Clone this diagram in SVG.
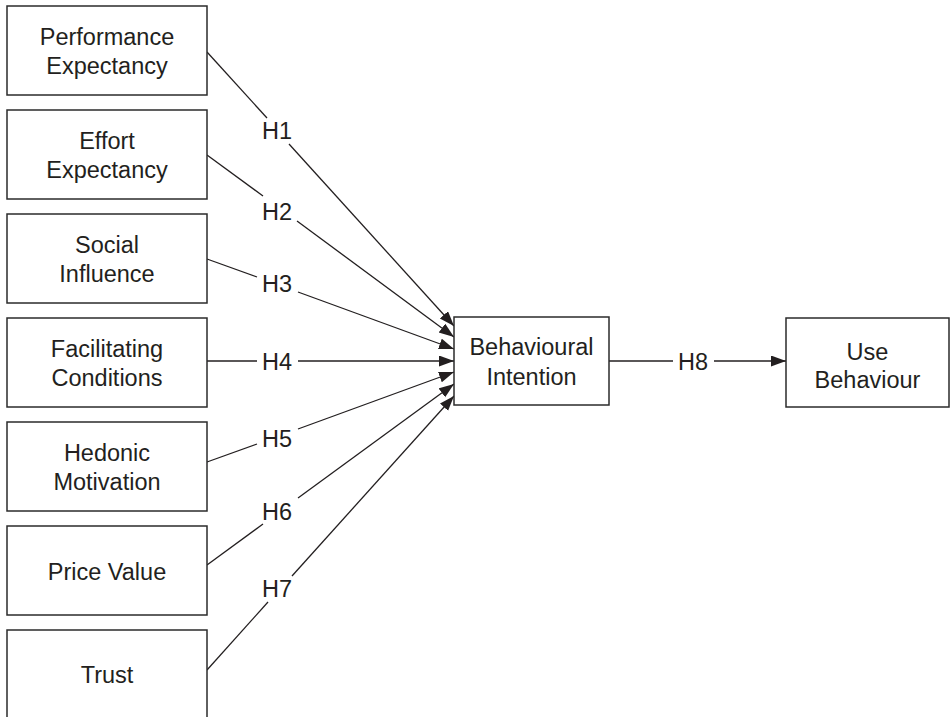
<svg xmlns="http://www.w3.org/2000/svg" width="950" height="717" viewBox="0 0 950 717">
<style>
.box{fill:#fff;stroke:#2b2b2b;stroke-width:1.5}
.t{font-family:"Liberation Sans",Arial,sans-serif;font-size:23.5px;fill:#231f20;text-anchor:middle}
.c{stroke:#231f20;stroke-width:1.3;fill:none}
</style>
<defs>
<marker id="ah" markerUnits="userSpaceOnUse" markerWidth="16" markerHeight="12" refX="15" refY="5.5" orient="auto">
<path d="M0,0 L15,5.5 L0,11 z" fill="#231f20"/>
</marker>
</defs>
<rect width="950" height="717" fill="#fff"/>
<g id="connectors">
<line class="c" x1="207" y1="52" x2="267" y2="118"/>
<line class="c" x1="289" y1="144" x2="454" y2="326" marker-end="url(#ah)"/>
<line class="c" x1="207" y1="155" x2="263" y2="196"/>
<line class="c" x1="297" y1="221" x2="454" y2="337" marker-end="url(#ah)"/>
<line class="c" x1="207" y1="259" x2="257" y2="277"/>
<line class="c" x1="298" y1="292" x2="454" y2="349" marker-end="url(#ah)"/>
<line class="c" x1="207" y1="361" x2="257" y2="361"/>
<line class="c" x1="298" y1="361" x2="454" y2="361" marker-end="url(#ah)"/>
<line class="c" x1="207" y1="462" x2="257" y2="444"/>
<line class="c" x1="298" y1="429" x2="454" y2="372" marker-end="url(#ah)"/>
<line class="c" x1="207" y1="565" x2="263" y2="524"/>
<line class="c" x1="298" y1="498" x2="454" y2="384" marker-end="url(#ah)"/>
<line class="c" x1="207" y1="670" x2="268" y2="602"/>
<line class="c" x1="292" y1="576" x2="454" y2="396" marker-end="url(#ah)"/>
<line class="c" x1="609" y1="361" x2="673" y2="361"/>
<line class="c" x1="714" y1="361" x2="786" y2="361" marker-end="url(#ah)"/>
<text class="t" x="277" y="139">H1</text>
<text class="t" x="277" y="220">H2</text>
<text class="t" x="277" y="292">H3</text>
<text class="t" x="277" y="370">H4</text>
<text class="t" x="277" y="447">H5</text>
<text class="t" x="277" y="520">H6</text>
<text class="t" x="277" y="597">H7</text>
<text class="t" x="693" y="370">H8</text>
</g>
<g id="pe"><rect class="box" x="7" y="6" width="200" height="89"/><text class="t" x="107" y="45">Performance</text><text class="t" x="107" y="74">Expectancy</text></g>
<g id="ee"><rect class="box" x="7" y="110" width="200" height="89"/><text class="t" x="107" y="149">Effort</text><text class="t" x="107" y="178">Expectancy</text></g>
<g id="si"><rect class="box" x="7" y="214" width="200" height="89"/><text class="t" x="107" y="253">Social</text><text class="t" x="107" y="282">Influence</text></g>
<g id="fc"><rect class="box" x="7" y="318" width="200" height="89"/><text class="t" x="107" y="357">Facilitating</text><text class="t" x="107" y="386">Conditions</text></g>
<g id="hm"><rect class="box" x="7" y="422" width="200" height="89"/><text class="t" x="107" y="461">Hedonic</text><text class="t" x="107" y="490">Motivation</text></g>
<g id="pv"><rect class="box" x="7" y="526" width="200" height="89"/><text class="t" x="107" y="580">Price Value</text></g>
<g id="tr"><rect class="box" x="7" y="630" width="200" height="92"/><text class="t" x="107" y="683">Trust</text></g>
<g id="bi"><rect class="box" x="454" y="317" width="155" height="88"/><text class="t" x="531.5" y="355">Behavioural</text><text class="t" x="531.5" y="385">Intention</text></g>
<g id="ub"><rect class="box" x="786" y="318" width="163" height="89"/><text class="t" x="867.5" y="360">Use</text><text class="t" x="867.5" y="388">Behaviour</text></g>
</svg>
